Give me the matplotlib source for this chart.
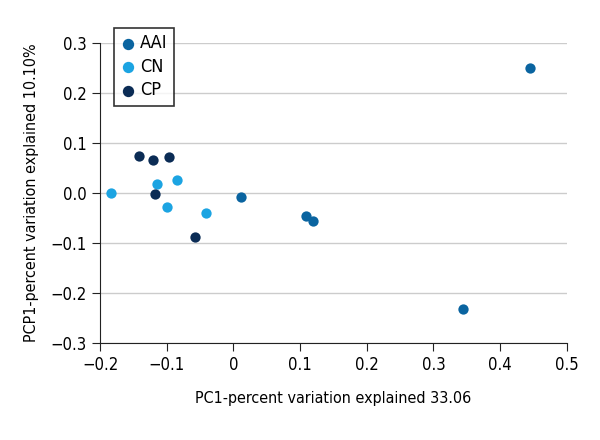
import matplotlib.pyplot as plt

groups = ["AAI", "CN", "CP"]
colors = ["#0a64a0", "#1ca4e2", "#0b2c55"]

aai_x = [0.445, 0.345, 0.109, 0.120, 0.012]
aai_y = [0.250, -0.232, -0.046, -0.056, -0.008]
cn_x = [-0.183, -0.115, -0.085, -0.100, -0.041]
cn_y = [0.000, 0.018, 0.026, -0.028, -0.040]
cp_x = [-0.141, -0.120, -0.097, -0.118, -0.058]
cp_y = [0.074, 0.066, 0.072, -0.002, -0.087]

xs = [aai_x, cn_x, cp_x]
ys = [aai_y, cn_y, cp_y]

plt.rcParams["font.family"] = ["DejaVu Sans"]
plt.rcParams["font.stretch"] = "condensed"

fig = plt.figure(figsize=(6, 4.4), dpi=100)
ax = fig.add_axes([0.1667, 0.22, 0.778, 0.682])

for name, c, x, y in zip(groups, colors, xs, ys):
    ax.scatter(x, y, s=55, color=c, label=name, zorder=3, linewidths=0)

ax.set_xlim(-0.2, 0.5)
ax.set_ylim(-0.3, 0.3)
ax.set_xticks([-0.2, -0.1, 0, 0.1, 0.2, 0.3, 0.4, 0.5])
ax.set_xticklabels(["\u22120.2", "\u22120.1", "0", "0.1", "0.2", "0.3", "0.4", "0.5"])
ax.set_yticks([-0.3, -0.2, -0.1, 0, 0.1, 0.2, 0.3])
ax.set_yticklabels(["\u22120.3", "\u22120.2", "\u22120.1", "0.0", "0.1", "0.2", "0.3"])
ax.yaxis.grid(True, color="#cccccc", linewidth=1, zorder=0)
ax.set_axisbelow(True)
for s in ["top", "right"]:
    ax.spines[s].set_visible(False)
ax.spines["left"].set_color("#222222")
ax.spines["bottom"].set_color("#222222")
ax.tick_params(axis="both", labelsize=12, length=6, color="#222222")

ax.set_xlabel("PC1-percent variation explained 33.06", fontsize=11.5, labelpad=12)
ax.set_ylabel("PCP1-percent variation explained 10.10%", fontsize=11.5, labelpad=8)

leg = ax.legend(loc="upper left", bbox_to_anchor=(0.01, 1.08), fontsize=13,
                frameon=True, fancybox=False, edgecolor="black",
                handletextpad=0.2, borderpad=0.35, labelspacing=0.3,
                handlelength=0.9, markerscale=1.1)
leg.get_frame().set_linewidth(1.2)

fig.savefig("out.png", dpi=100)
